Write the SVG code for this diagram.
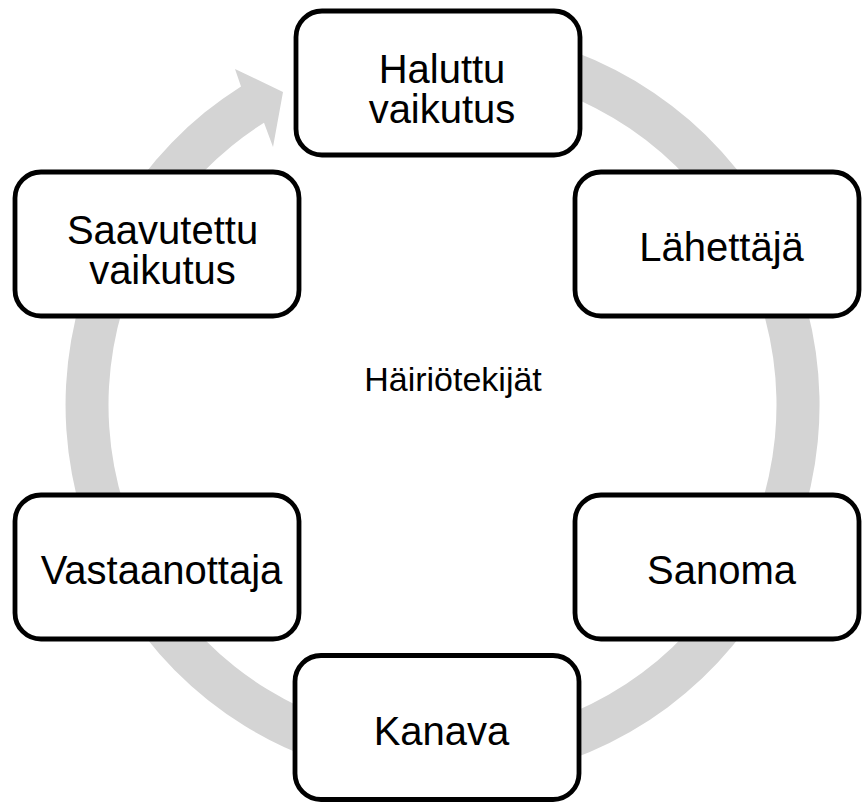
<svg xmlns="http://www.w3.org/2000/svg" width="863" height="804" viewBox="0 0 863 804">
<style>
.box{fill:#ffffff;stroke:#000000;stroke-width:4.8}
.t{font-family:"Liberation Sans",Arial,sans-serif;font-size:40px;fill:#000000;text-anchor:middle}
.c{font-family:"Liberation Sans",Arial,sans-serif;font-size:34px;fill:#000000;text-anchor:middle}
.ring{fill:#d4d4d4;stroke:none}
</style>
<rect x="0" y="0" width="863" height="804" fill="#ffffff"/>
<g id="connectors">
<path class="ring" d="M 442.5 28 A 377 377 0 1 1 241 86.4 L 235 69 L 283 92 L 273 147 L 264 122.7 A 334 334 0 1 0 442.5 71 Z"/>
</g>
<g id="center-label">
<text class="c" x="453" y="391">Häiriötekijät</text>
</g>
<g id="node-haluttu">
<rect class="box" x="296" y="11" width="284" height="144" rx="26"/>
<text class="t" x="442" y="83">Haluttu</text>
<text class="t" x="442" y="123">vaikutus</text>
</g>
<g id="node-lahettaja">
<rect class="box" x="575" y="172" width="284" height="144" rx="26"/>
<text class="t" x="721.5" y="261">Lähettäjä</text>
</g>
<g id="node-sanoma">
<rect class="box" x="575" y="495" width="284" height="144" rx="26"/>
<text class="t" x="721.5" y="584">Sanoma</text>
</g>
<g id="node-kanava">
<rect class="box" x="295" y="655.5" width="284" height="144" rx="26"/>
<text class="t" x="441.5" y="745">Kanava</text>
</g>
<g id="node-vastaanottaja">
<rect class="box" x="15" y="495" width="284" height="144" rx="26"/>
<text class="t" x="161.5" y="584">Vastaanottaja</text>
</g>
<g id="node-saavutettu">
<rect class="box" x="15" y="172" width="284" height="144" rx="26"/>
<text class="t" x="162.5" y="244">Saavutettu</text>
<text class="t" x="162.5" y="284">vaikutus</text>
</g>
</svg>
